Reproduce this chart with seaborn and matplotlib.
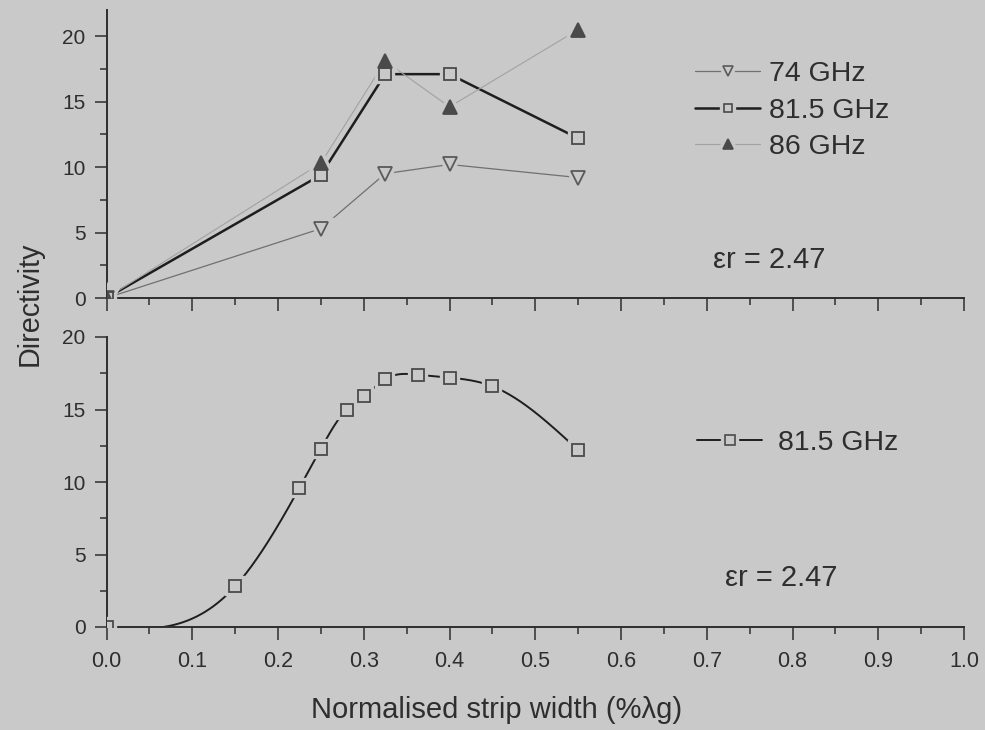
import numpy as np
import pandas as pd
import matplotlib
matplotlib.use("Agg")
import matplotlib.pyplot as plt
import seaborn as sns
from matplotlib.lines import Line2D
from matplotlib.legend_handler import HandlerTuple
from matplotlib.ticker import MultipleLocator

# Directivity vs. normalised strip width at three frequencies
width_freq = [0.0, 0.25, 0.325, 0.40, 0.55]
dir_74 = [0.0, 5.3, 9.5, 10.2, 9.2]
dir_815 = [0.0, 9.4, 17.1, 17.1, 12.2]
dir_86 = [0.0, 10.3, 18.1, 14.6, 20.5]
freq_labels = ["74 GHz", "81.5 GHz", "86 GHz"]

# Finer width sweep at 81.5 GHz
width_sweep = [0.0, 0.15, 0.225, 0.25, 0.28, 0.30, 0.325, 0.363, 0.40, 0.45, 0.55]
dir_sweep = [0.0, 2.8, 9.6, 12.3, 15.0, 15.9, 17.1, 17.4, 17.2, 16.6, 12.2]
sweep_label = "81.5 GHz"

x_ticks = [0.0, 0.1, 0.2, 0.3, 0.4, 0.5, 0.6, 0.7, 0.8, 0.9, 1.0]
x_ticklabels = ["0.0", "0.1", "0.2", "0.3", "0.4", "0.5", "0.6", "0.7", "0.8", "0.9", "1.0"]
y_ticks = [0, 5, 10, 15, 20]
eps_text = "\u03b5r = 2.47"

BG = "#c9c9c9"
INK = "#2e2e2e"

sns.set_theme(style="ticks")
plt.rcParams.update({
    "figure.facecolor": BG,
    "axes.facecolor": BG,
    "savefig.facecolor": BG,
    "axes.edgecolor": INK,
    "axes.linewidth": 1.4,
    "xtick.color": INK,
    "ytick.color": INK,
    "text.color": INK,
    "axes.labelcolor": INK,
})
plt.rcParams["font.family"] = ["Liberation Sans", "DejaVu Sans"]


def natural_spline(x, y, n=600):
    """Natural cubic spline through the points, sampled densely for a smooth line."""
    x = np.asarray(x, float)
    y = np.asarray(y, float)
    h = np.diff(x)
    m = len(x)
    A = np.zeros((m, m))
    r = np.zeros(m)
    A[0, 0] = A[-1, -1] = 1.0
    for i in range(1, m - 1):
        A[i, i - 1] = h[i - 1]
        A[i, i] = 2 * (h[i - 1] + h[i])
        A[i, i + 1] = h[i]
        r[i] = 3 * ((y[i + 1] - y[i]) / h[i] - (y[i] - y[i - 1]) / h[i - 1])
    c = np.linalg.solve(A, r)
    b = (y[1:] - y[:-1]) / h - h * (2 * c[:-1] + c[1:]) / 3
    d = (c[1:] - c[:-1]) / (3 * h)
    xs = np.linspace(x[0], x[-1], n)
    idx = np.clip(np.searchsorted(x, xs, side="right") - 1, 0, m - 2)
    dx = xs - x[idx]
    ys = y[idx] + b[idx] * dx + c[idx] * dx ** 2 + d[idx] * dx ** 3
    return xs, ys


def draw_markers(ax, x, y, marker, size, face, edge, ew=1.3, gap=6.0):
    # background halo first so connecting lines stop short of each symbol
    sns.lineplot(x=x, y=y, ax=ax, linestyle="none", marker=marker, markersize=size,
                 markerfacecolor=BG, markeredgecolor=BG, markeredgewidth=gap,
                 sort=False, estimator=None, zorder=3)
    sns.lineplot(x=x, y=y, ax=ax, linestyle="none", marker=marker, markersize=size,
                 markerfacecolor=face, markeredgecolor=edge, markeredgewidth=ew,
                 sort=False, estimator=None, zorder=4)


def style_axis(ax, ylim_top):
    ax.set_xlim(0, 1.0)
    ax.set_ylim(0, ylim_top)
    ax.set_xticks(x_ticks)
    ax.set_yticks(y_ticks)
    ax.xaxis.set_minor_locator(MultipleLocator(0.05))
    ax.yaxis.set_minor_locator(MultipleLocator(2.5))
    ax.tick_params(which="major", direction="out", length=9, width=1.1, labelsize=15, pad=6)
    ax.tick_params(which="minor", direction="out", length=5, width=1.1)
    for s in ("top", "right"):
        ax.spines[s].set_visible(False)
    ax.set_xlabel("")
    ax.set_ylabel("")


def legend_handle(ls_color, lw, marker, size, face, edge):
    line = Line2D([], [], color=ls_color, lw=lw)
    halo = Line2D([], [], linestyle="none", marker=marker, markersize=size,
                  markerfacecolor=BG, markeredgecolor=BG, markeredgewidth=6)
    mk = Line2D([], [], linestyle="none", marker=marker, markersize=size,
                markerfacecolor=face, markeredgecolor=edge, markeredgewidth=1.2)
    return (line, halo, mk)


fig = plt.figure(figsize=(9.85, 7.3), dpi=100)
W, H = 985.0, 730.0
x_left, x_right = 106.5, 964.0

# ---- upper panel: three frequencies ----
ax1 = fig.add_axes([x_left / W, 1 - 298 / H, (x_right - x_left) / W, (298 - 10) / H])
series = [
    (dir_74, "#707070", 0.9, "v", 9.5, BG, "#5a5a5a"),
    (dir_815, "#1e1e1e", 1.8, "s", 8.6, BG, "#4a4a4a"),
    (dir_86, "#a2a2a2", 0.8, "^", 9.5, "#4a4a4a", "#4a4a4a"),
]
for vals, col, lw, *_ in series:
    sns.lineplot(x=width_freq, y=vals, ax=ax1, color=col, lw=lw, sort=False,
                 estimator=None, zorder=2)
for vals, col, lw, mk, ms, fc, ec in series:
    draw_markers(ax1, width_freq, vals, mk, ms, fc, ec)
style_axis(ax1, 22)
ax1.set_xticklabels([])

handles = [legend_handle(col, lw, mk, ms * 0.75, fc, ec) for _, col, lw, mk, ms, fc, ec in series]
ax1.legend(handles, freq_labels, handler_map={tuple: HandlerTuple(ndivide=1)},
           loc="center left", bbox_to_anchor=(695 / W, 1 - 110.5 / H),
           bbox_transform=fig.transFigure, frameon=False, fontsize=20.5,
           handlelength=2.3, handletextpad=0.3, labelspacing=0.36, borderpad=0,
           borderaxespad=0)
fig.text(713 / W, 1 - 260 / H, eps_text, fontsize=21, ha="left", va="center")

# ---- lower panel: fine sweep at 81.5 GHz ----
ax2 = fig.add_axes([x_left / W, 1 - 627 / H, (x_right - x_left) / W, (627 - 337) / H])
xs, ys = natural_spline(width_sweep, dir_sweep)
sns.lineplot(x=xs, y=ys, ax=ax2, color="#1e1e1e", lw=1.4, sort=False, estimator=None, zorder=2)
draw_markers(ax2, width_sweep, dir_sweep, "s", 8.6, BG, "#4a4a4a")
style_axis(ax2, 20)
ax2.set_xticklabels(x_ticklabels)
ax2.tick_params(axis="x", labelsize=15.5, pad=8)
ax2.legend([legend_handle("#1e1e1e", 1.4, "s", 6.5, BG, "#4a4a4a")], [sweep_label],
           handler_map={tuple: HandlerTuple(ndivide=1)},
           loc="center left", bbox_to_anchor=(697 / W, 1 - 443 / H),
           bbox_transform=fig.transFigure, frameon=False, fontsize=20.5,
           handlelength=2.3, handletextpad=0.55, borderpad=0, borderaxespad=0)
fig.text(725 / W, 1 - 578 / H, eps_text, fontsize=21, ha="left", va="center")

fig.text(30 / W, 1 - 304 / H, "Directivity", rotation=90, fontsize=20.7, ha="center", va="center")
fig.text(497 / W, 1 - 710 / H, "Normalised strip width (%\u03bbg)", fontsize=21,
         ha="center", va="center")

fig.savefig("out.png", dpi=100, facecolor=BG)
